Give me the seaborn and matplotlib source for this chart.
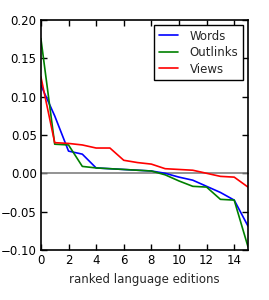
import pandas as pd
import seaborn as sns
import matplotlib.pyplot as plt

# ranked values per language edition
rank = list(range(16))
words = [0.115, 0.075, 0.029, 0.025, 0.007, 0.006, 0.005, 0.004, 0.003,
         0.000, -0.005, -0.009, -0.017, -0.025, -0.035, -0.069]
outlinks = [0.176, 0.038, 0.037, 0.009, 0.007, 0.006, 0.005, 0.004, 0.003,
            -0.002, -0.010, -0.017, -0.018, -0.034, -0.035, -0.096]
views = [0.126, 0.040, 0.039, 0.037, 0.033, 0.033, 0.017, 0.014, 0.012,
         0.006, 0.005, 0.004, 0.000, -0.004, -0.005, -0.018]

df = pd.DataFrame({"rank": rank, "Words": words, "Outlinks": outlinks, "Views": views})
long_df = df.melt(id_vars="rank", var_name="series", value_name="value")

sns.set_style("ticks")
plt.rcParams["font.family"] = ["DejaVu Sans"]
plt.rcParams["font.size"] = 8.5

fig = plt.figure(figsize=(2.69, 3.0), dpi=100)
ax = fig.add_axes([0.152, 0.167, 0.770, 0.766])

ax.axhline(0, color="gray", lw=1.2, zorder=1)
sns.lineplot(data=long_df, x="rank", y="value", hue="series",
             palette={"Words": "blue", "Outlinks": "green", "Views": "red"},
             lw=1.2, ax=ax, zorder=2)

ax.set_xlim(0, 15)
ax.set_ylim(-0.10, 0.20)
ax.set_xticks(range(0, 16, 2))
ax.set_yticks([-0.10, -0.05, 0.00, 0.05, 0.10, 0.15, 0.20])
ax.set_yticklabels(["\u22120.10", "\u22120.05", "0.00", "0.05", "0.10", "0.15", "0.20"])
ax.tick_params(direction="in", top=True, right=True, length=4, width=1,
               labelsize=8.5, colors="black", pad=3)
for s in ax.spines.values():
    s.set_linewidth(1.2)
    s.set_color("black")
ax.set_xlabel("ranked language editions", fontsize=8.5)
ax.set_ylabel("")

leg = ax.legend(loc="upper right", fontsize=8.5, fancybox=False, framealpha=1,
                edgecolor="black", handlelength=1.6, handletextpad=1.0,
                borderpad=0.4, labelspacing=0.3, borderaxespad=0.4)
leg.get_frame().set_linewidth(1.0)

plt.savefig("out.png", dpi=100)
